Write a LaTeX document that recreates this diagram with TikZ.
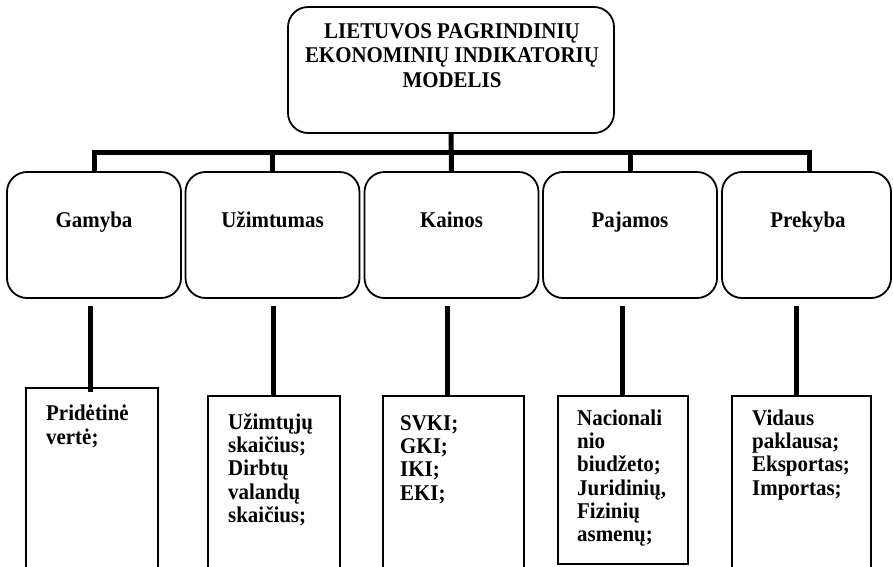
\documentclass[tikz,border=0pt]{standalone}
\usepackage{fontspec}
\setmainfont{Liberation Serif}[FakeStretch=0.93]
\begin{document}
\begin{tikzpicture}[x=1pt,y=-1pt,
  rbox/.style={draw,line width=1.8pt,rounded corners=20pt,inner sep=0,
    minimum width=174pt,minimum height=126pt},
  ibox/.style={draw,line width=2pt,inner sep=0,anchor=north west},
  conn/.style={line width=5pt,line cap=butt,line join=miter},
  head/.style={font=\fontsize{22.5}{24.8}\selectfont\bfseries,align=center,inner sep=0},
  lab/.style={font=\fontsize{22.5}{23.3}\selectfont\bfseries,inner sep=0,anchor=base},
  item/.style={font=\fontsize{22.5}{23.3}\selectfont\bfseries,align=left,inner sep=0,anchor=north west}]
\useasboundingbox (0,0) rectangle (893,566);
\clip (0,0) rectangle (893,566);

% top box
\node[draw,line width=1.8pt,rounded corners=20pt,inner sep=0,
  minimum width=326pt,minimum height=126pt] (top) at (451,70) {};
\node[head,anchor=north] (title) at (452,20.6)
  {\strut LIETUVOS PAGRINDINIŲ\\EKONOMINIŲ INDIKATORIŲ\\MODELIS};

% second row
\node[rbox] (gam) at (94,235) {};
\node[rbox] (uzi) at (272.5,235) {};
\node[rbox] (kai) at (451.5,235) {};
\node[rbox] (paj) at (630,235) {};
\node[rbox,minimum width=169pt] (pre) at (806.5,235) {};
\node[lab] (gamt) at (94,227) {Gamyba};
\node[lab] (uzit) at (272.5,227) {Užimtumas};
\node[lab] (kait) at (451.5,227) {Kainos};
\node[lab] (pajt) at (630,227) {Pajamos};
\node[lab] (pret) at (808,227) {Prekyba};

% top connectors
\coordinate (bar) at (452,152);
\draw[conn] (top.south) -- (kai.north);
\draw[conn] (gam.north -| 94.5,0) -- (94.5,152) -- (809.5,152) -- (pre.north -| 809.5,0);
\draw[conn] (uzi.north |- bar) -- (uzi.north);
\draw[conn] (paj.north |- bar) -- (paj.north);

% lower boxes
\node[ibox,minimum width=132pt,minimum height=200pt] (gamL) at (25,387) {};
\node[ibox,minimum width=132pt,minimum height=200pt] (uziL) at (207,395) {};
\node[ibox,minimum width=141pt,minimum height=200pt] (kaiL) at (382,395) {};
\node[ibox,minimum width=130pt,minimum height=168pt] (pajL) at (557,395) {};
\node[ibox,minimum width=139pt,minimum height=200pt] (preL) at (731,395) {};

% lower connectors
\coordinate (d1) at (90,306);
\coordinate (d2) at (273,306);
\coordinate (d3) at (447,306);
\coordinate (d4) at (622,306);
\coordinate (d5) at (796,306);
\draw[conn] (d1) -- (d1 |- 0,392);
\draw[conn] (d2) -- (d2 |- uziL.north);
\draw[conn] (d3) -- (d3 |- kaiL.north);
\draw[conn] (d4) -- (d4 |- pajL.north);
\draw[conn] (d5) -- (d5 |- preL.north);

% lower texts
\node[item] (gami) at (46,404.2) {\strut Pridėtinė\\vertė;};
\node[item] (uzii) at (228,412.7) {\strut Užimtųjų\\skaičius;\\Dirbtų\\valandų\\skaičius;};
\node[item] (kaii) at (400,413.7) {\strut SVKI;\\GKI;\\IKI;\\EKI;};
\node[item] (paji) at (577,408.7) {\strut Nacionali\\nio\\biudžeto;\\Juridinių,\\Fizinių\\asmenų;};
\node[item] (prei) at (752,408.7) {\strut Vidaus\\paklausa;\\Eksportas;\\Importas;};
\end{tikzpicture}
\end{document}
